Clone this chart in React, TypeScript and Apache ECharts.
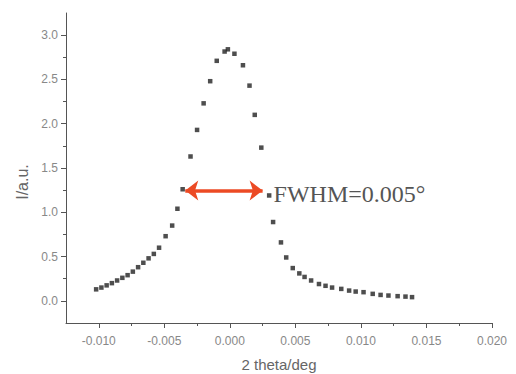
import React, { useEffect, useRef } from "react";
import * as echarts from "echarts";

const xValues = [
  -0.0102, -0.0098, -0.0094, -0.009, -0.0086, -0.0082, -0.0078, -0.0074, -0.007, -0.0066,
  -0.0062, -0.0058, -0.0054, -0.0049, -0.0044, -0.004, -0.0036, -0.003, -0.0025, -0.002,
  -0.0015, -0.001, -0.0004, -0.00015, 0.00035, 0.001, 0.0015, 0.0019, 0.0024, 0.003,
  0.0033, 0.0039, 0.0043, 0.0048, 0.0053, 0.0057, 0.0062, 0.0068, 0.0073, 0.0078,
  0.0085, 0.0091, 0.0096, 0.0102, 0.0109, 0.0115, 0.0121, 0.0128, 0.0134, 0.0139,
];
const yValues = [
  0.13, 0.15, 0.175, 0.2, 0.23, 0.26, 0.29, 0.33, 0.38, 0.43,
  0.48, 0.53, 0.6, 0.73, 0.85, 1.04, 1.26, 1.63, 1.93, 2.23,
  2.48, 2.71, 2.815, 2.84, 2.79, 2.66, 2.43, 2.1, 1.73, 1.19,
  0.89, 0.66, 0.49, 0.37, 0.31, 0.27, 0.23, 0.19, 0.17, 0.15,
  0.135, 0.116, 0.105, 0.098, 0.079, 0.067, 0.06, 0.053, 0.048, 0.042,
];
const xMajorTicks = [-0.01, -0.005, 0, 0.005, 0.01, 0.015, 0.02];
const xMinorTicks = [-0.0075, -0.0025, 0.0025, 0.0075, 0.0125, 0.0175];
const yMajorTicks = [0, 0.5, 1.0, 1.5, 2.0, 2.5, 3.0];
const yMinorTicks = [0.25, 0.75, 1.25, 1.75, 2.25, 2.75];
const fwhmArrow = { from: -0.0034, to: 0.0025, level: 1.245 };
const fwhmLabel = { x: 0.0033, y: 1.245, text: "FWHM=0.005°" };

const axisColor = "#555";
const labelColor = "#888";

export default function App() {
  const ref = useRef<HTMLDivElement>(null);
  useEffect(() => {
    if (!ref.current) return;
    const chart = echarts.init(ref.current, null, { renderer: "svg" });
    const points = xValues.map((x, i) => [x, yValues[i]]);
    const commonX = { type: "value", min: -0.0125, max: 0.02, splitLine: { show: false } };
    const commonY = { type: "value", min: -0.25, max: 3.25, splitLine: { show: false } };
    chart.setOption({
      animation: false,
      backgroundColor: "#fff",
      grid: { left: 66, right: 24, top: 13, bottom: 51, containLabel: false, outerBoundsMode: "none" },
      xAxis: [
        {
          ...commonX,
          name: "2 theta/deg",
          nameLocation: "middle",
          nameGap: 34,
          nameTextStyle: { color: "#666", fontSize: 15, fontFamily: "Liberation Sans" },
          axisLine: { show: true, onZero: false, lineStyle: { color: axisColor, width: 1 } },
          axisTick: { show: true, customValues: xMajorTicks, length: 5, lineStyle: { color: axisColor } },
          axisLabel: {
            customValues: xMajorTicks,
            color: labelColor,
            fontSize: 12,
            fontFamily: "Liberation Sans",
            margin: 12,
            formatter: (v: number) => v.toFixed(3),
          },
        },
        {
          ...commonX,
          position: "bottom",
          axisLine: { show: false, onZero: false },
          axisTick: { show: true, customValues: xMinorTicks, length: 3, lineStyle: { color: axisColor } },
          axisLabel: { show: false },
        },
      ],
      yAxis: [
        {
          ...commonY,
          name: "I/a.u.",
          nameLocation: "middle",
          nameGap: 36,
          nameTextStyle: {
            color: "#666",
            fontSize: 16,
            fontFamily: "Liberation Sans",
            padding: [0, 28, 0, 0],
          },
          axisLine: { show: true, onZero: false, lineStyle: { color: axisColor, width: 1 } },
          axisTick: { show: true, customValues: yMajorTicks, length: 5, lineStyle: { color: axisColor } },
          axisLabel: {
            customValues: yMajorTicks,
            color: labelColor,
            fontSize: 12,
            fontFamily: "Liberation Sans",
            margin: 8,
            formatter: (v: number) => v.toFixed(1),
          },
        },
        {
          ...commonY,
          position: "left",
          axisLine: { show: false, onZero: false },
          axisTick: { show: true, customValues: yMinorTicks, length: 3, lineStyle: { color: axisColor } },
          axisLabel: { show: false },
        },
      ],
      series: [
        {
          type: "scatter",
          xAxisIndex: 0,
          yAxisIndex: 0,
          data: points,
          symbol: "rect",
          symbolSize: 4.5,
          itemStyle: { color: "#222" },
          markLine: {
            silent: true,
            symbol: ["arrow", "arrow"],
            symbolSize: [15, 13],
            lineStyle: { color: "#ec4a24", width: 3.5, type: "solid" },
            label: { show: false },
            data: [
              [
                { coord: [fwhmArrow.from, fwhmArrow.level] },
                { coord: [fwhmArrow.to, fwhmArrow.level] },
              ],
            ],
          },
          markPoint: {
            silent: true,
            symbol: "circle",
            symbolSize: 1,
            itemStyle: { color: "rgba(0,0,0,0)" },
            label: {
              show: true,
              position: "right",
              distance: 0,
              offset: [0, 3],
              formatter: fwhmLabel.text,
              color: "#555",
              fontSize: 24,
              fontFamily: "Liberation Serif",
            },
            data: [{ coord: [fwhmLabel.x, fwhmLabel.y] }],
          },
        },
      ],
    });
    return () => chart.dispose();
  }, []);
  return (
    <div
      ref={ref}
      style={{ position: "fixed", left: 0, top: 0, width: 516, height: 374 }}
    />
  );
}
